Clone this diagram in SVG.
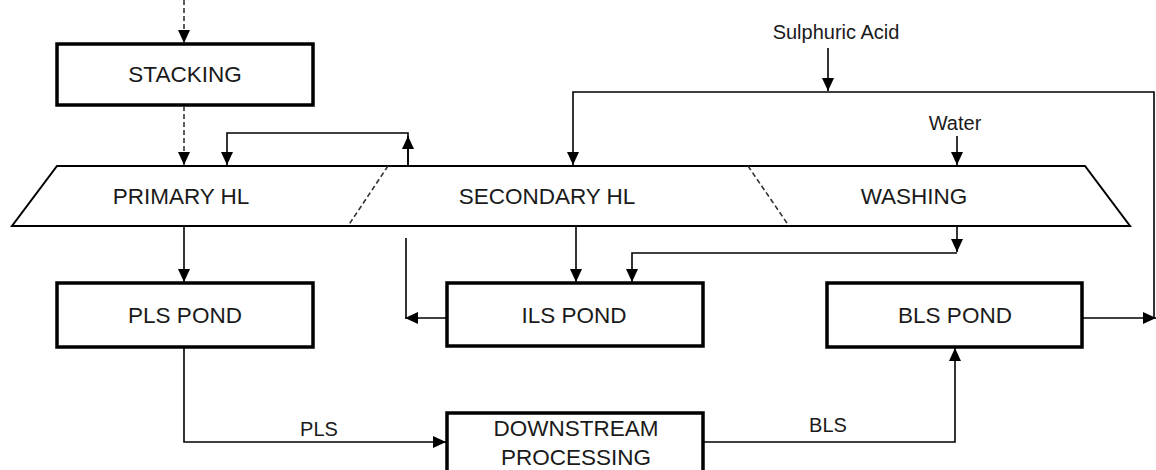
<svg xmlns="http://www.w3.org/2000/svg" width="1156" height="470" viewBox="0 0 1156 470">
<style>
text{font-family:"Liberation Sans",Arial,sans-serif;fill:#1a1a1a;text-anchor:middle}
.big{font-size:22.5px}
.lbl{font-size:20px}
.box{fill:#fff;stroke:#000;stroke-width:3.5}
.hl{fill:#fff;stroke:#000;stroke-width:2}
.c{fill:none;stroke:#000;stroke-width:1.6}
.d{fill:none;stroke:#333;stroke-width:1.6;stroke-dasharray:5,3}
</style>
<defs>
<marker id="ah" markerUnits="userSpaceOnUse" markerWidth="14" markerHeight="12" refX="13" refY="6" orient="auto">
<path d="M0,0 L13,6 L0,12 Z" fill="#000"/>
</marker>
</defs>
<g id="heapleach">
<polygon class="hl" points="57,166 1085,166 1130,226 12,226"/>
<line class="d" x1="388" y1="166" x2="348" y2="226"/>
<line class="d" x1="748" y1="166" x2="789" y2="226"/>
<text class="big" x="181" y="204">PRIMARY HL</text>
<text class="big" x="547" y="204">SECONDARY HL</text>
<text class="big" x="914" y="204">WASHING</text>
</g>
<g id="stacking">
<rect class="box" x="57" y="44" width="256" height="61"/>
<text class="big" x="185" y="82">STACKING</text>
</g>
<g id="pls-pond">
<rect class="box" x="57" y="283" width="256" height="64"/>
<text class="big" x="185" y="323">PLS POND</text>
</g>
<g id="ils-pond">
<rect class="box" x="447" y="283" width="256" height="63"/>
<text class="big" x="574" y="323">ILS POND</text>
</g>
<g id="bls-pond">
<rect class="box" x="827" y="283" width="255" height="64"/>
<text class="big" x="955" y="323">BLS POND</text>
</g>
<g id="downstream">
<rect class="box" x="447" y="413" width="256" height="70"/>
<text class="big" x="576" y="436">DOWNSTREAM</text>
<text class="big" x="576" y="465">PROCESSING</text>
</g>
<g id="labels">
<text class="lbl" x="836" y="39">Sulphuric Acid</text>
<text class="lbl" x="955" y="130">Water</text>
<text class="lbl" x="319" y="436">PLS</text>
<text class="lbl" x="828" y="432">BLS</text>
</g>
<g id="connectors">
<line class="d" x1="184" y1="0" x2="184" y2="43" marker-end="url(#ah)"/>
<line class="d" x1="184" y1="106" x2="184" y2="165" marker-end="url(#ah)"/>
<polyline class="c" points="408,166 408,133 227,133 227,165" marker-end="url(#ah)"/>
<line class="c" x1="408" y1="166" x2="408" y2="136" marker-end="url(#ah)"/>
<line class="c" x1="828" y1="48" x2="828" y2="91" marker-end="url(#ah)"/>
<polyline class="c" points="1154,318 1154,92 573,92 573,165" marker-end="url(#ah)"/>
<line class="c" x1="957" y1="136" x2="957" y2="165" marker-end="url(#ah)"/>
<line class="c" x1="184" y1="226" x2="184" y2="282" marker-end="url(#ah)"/>
<line class="c" x1="576" y1="226" x2="576" y2="282" marker-end="url(#ah)"/>
<line class="c" x1="957" y1="226" x2="957" y2="252" marker-end="url(#ah)"/>
<polyline class="c" points="957,253 632,253 632,282" marker-end="url(#ah)"/>
<line class="c" x1="446" y1="318" x2="405" y2="318" marker-end="url(#ah)"/>
<line class="c" x1="406" y1="238" x2="406" y2="318"/>
<polyline class="c" points="184,348 184,442 446,442" marker-end="url(#ah)"/>
<polyline class="c" points="704,442 955,442 955,348" marker-end="url(#ah)"/>
<line class="c" x1="1083" y1="318" x2="1156" y2="318" marker-end="url(#ah)"/>
</g>
</svg>
